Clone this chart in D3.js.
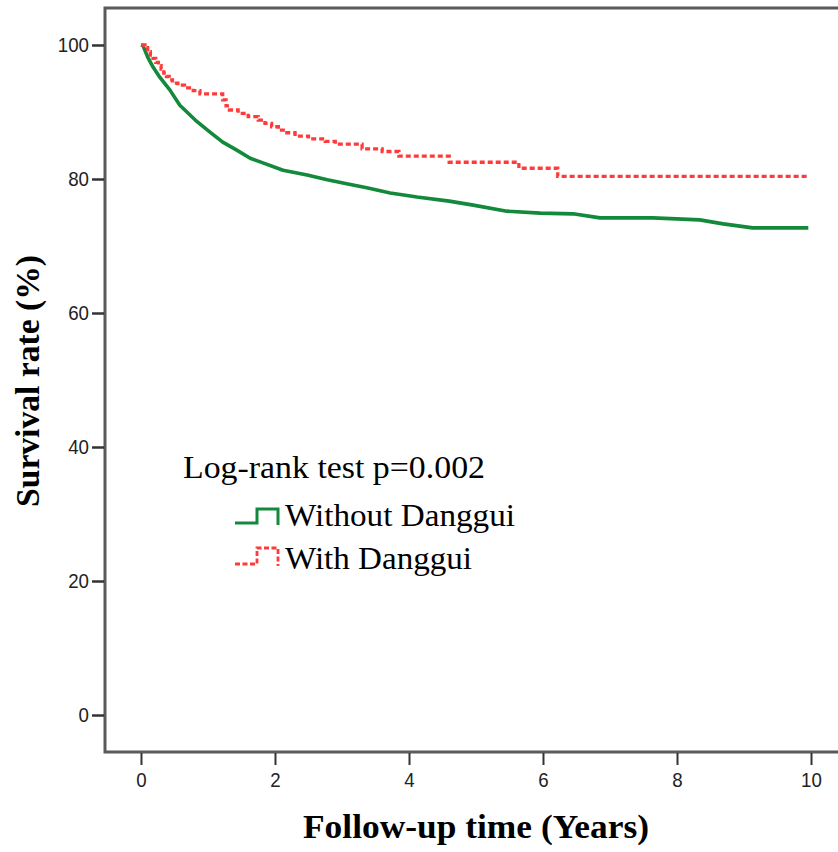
<!DOCTYPE html>
<html>
<head>
<meta charset="utf-8">
<script src="https://cdn.jsdelivr.net/npm/d3@7/dist/d3.min.js"></script>
<style>
  html, body { margin: 0; padding: 0; background: #fff; }
  svg { display: block; }
</style>
</head>
<body>
<svg id="chart" width="838" height="852"></svg>
<script>
// ---- Data ----
const xTicks = [0, 2, 4, 6, 8, 10];
const yTicks = [0, 20, 40, 60, 80, 100];

// Without Danggui (many small steps, drawn as a near-continuous line)
const withoutTime = [0, 0.03, 0.10, 0.18, 0.28, 0.43, 0.58, 0.81, 1.03, 1.22, 1.43, 1.63, 1.82, 2.12, 2.48, 2.78, 3.07, 3.37, 3.72, 4.12, 4.60, 4.96, 5.46, 5.96, 6.45, 6.85, 7.64, 8.34, 8.69, 9.13, 9.96];
const withoutSurv = [100, 99.9, 98.2, 96.7, 95.2, 93.3, 91.0, 88.8, 87.0, 85.5, 84.3, 83.1, 82.4, 81.3, 80.6, 79.9, 79.3, 78.7, 77.9, 77.3, 76.7, 76.1, 75.2, 74.9, 74.8, 74.2, 74.2, 73.9, 73.3, 72.7, 72.7];

// With Danggui (step function)
const withTime = [0, 0.06, 0.10, 0.14, 0.18, 0.22, 0.26, 0.30, 0.34, 0.38, 0.42, 0.47, 0.55, 0.65, 0.78, 0.88, 1.22, 1.27, 1.32, 1.45, 1.60, 1.75, 1.85, 1.95, 2.05, 2.15, 2.30, 2.50, 2.75, 2.90, 3.30, 3.60, 3.85, 4.60, 5.64, 6.22, 9.96];
const withSurv = [100, 99.6, 99.0, 98.5, 98.0, 97.4, 96.9, 96.4, 95.8, 95.3, 94.8, 94.3, 94.0, 93.6, 93.2, 92.7, 91.8, 90.9, 90.3, 89.8, 89.3, 88.8, 88.3, 87.8, 87.3, 86.9, 86.4, 86.0, 85.6, 85.2, 84.5, 84.1, 83.4, 82.5, 81.6, 80.4, 80.4];

const seriesNames = ["Without Danggui", "With Danggui"];
const testLabel = "Log-rank test p=0.002";
const xTitle = "Follow-up time (Years)";
const yTitle = "Survival rate (%)";

// ---- Layout ----
const svg = d3.select("#chart");
const pLeft = 105, pRight = 838, pTop = 8, pBottom = 752;

const x = d3.scaleLinear().domain([-0.537, 10.403]).range([pLeft, pRight]);
const y = d3.scaleLinear().domain([-5.52, 105.52]).range([pBottom, pTop]);

const green = "#12893b";
const red = "#ff3a3a";
const serif = "'Liberation Serif', 'Times New Roman', serif";
const sans = "'Liberation Sans', Arial, sans-serif";

// Frame (top, left, bottom; right side runs off the image)
svg.append("path")
  .attr("d", `M${pRight},${pTop}H${pLeft}V${pBottom}H${pRight}`)
  .attr("fill", "none")
  .attr("stroke", "#5a5a5a")
  .attr("stroke-width", 3);

function styleTicks(g) {
  g.select(".domain").remove();
  g.selectAll(".tick text")
    .attr("fill", "#222")
    .style("font-family", sans)
    .style("font-size", "21px")
    .attr("textLength", d => String(d).length * 10.4)
    .attr("lengthAdjust", "spacingAndGlyphs");
}

// X axis
const xAxis = svg.append("g")
  .attr("transform", `translate(0,${pBottom + 1})`)
  .call(d3.axisBottom(x).tickValues(xTicks).tickSize(12).tickPadding(7).tickFormat(d3.format("d")));
styleTicks(xAxis);
xAxis.selectAll(".tick line").attr("stroke", "#333").attr("stroke-width", 2);

// Y axis
const yAxis = svg.append("g")
  .attr("transform", `translate(${pLeft - 1},0)`)
  .call(d3.axisLeft(y).tickValues(yTicks).tickSize(12).tickPadding(3).tickFormat(d3.format("d")));
styleTicks(yAxis);
yAxis.selectAll(".tick line").attr("stroke", "#333").attr("stroke-width", 2.5);

// Curves
const withoutData = withoutTime.map((t, i) => [t, withoutSurv[i]]);
const withData = withTime.map((t, i) => [t, withSurv[i]]);

svg.append("path")
  .datum(withoutData)
  .attr("fill", "none")
  .attr("stroke", green)
  .attr("stroke-width", 3.6)
  .attr("stroke-linejoin", "round")
  .attr("d", d3.line().x(d => x(d[0])).y(d => y(d[1])).curve(d3.curveLinear));

svg.append("path")
  .datum(withData)
  .attr("fill", "none")
  .attr("stroke", red)
  .attr("stroke-width", 3.3)
  .attr("stroke-dasharray", "5,3")
  .attr("d", d3.line().x(d => x(d[0])).y(d => y(d[1])).curve(d3.curveStepAfter));

// Axis titles
svg.append("text")
  .attr("x", 476).attr("y", 838)
  .attr("text-anchor", "middle")
  .attr("textLength", 346).attr("lengthAdjust", "spacingAndGlyphs")
  .style("font-family", serif)
  .style("font-weight", "bold")
  .style("font-size", "33px")
  .text(xTitle);

svg.append("text")
  .attr("transform", "translate(39,381) rotate(-90)")
  .attr("text-anchor", "middle")
  .attr("textLength", 252).attr("lengthAdjust", "spacingAndGlyphs")
  .style("font-family", serif)
  .style("font-weight", "bold")
  .style("font-size", "34px")
  .text(yTitle);

// Legend
svg.append("text")
  .attr("x", 183).attr("y", 478)
  .attr("textLength", 302).attr("lengthAdjust", "spacingAndGlyphs")
  .style("font-family", serif)
  .style("font-size", "31px")
  .text(testLabel);

const legendSym = [
  { y0: 523, y1: 509, color: green, dash: null, w: 3, ty: 526, len: 230 },
  { y0: 564, y1: 548, color: red, dash: "5,2.5", w: 2.8, ty: 569, len: 187 }
];
legendSym.forEach((s, i) => {
  svg.append("path")
    .attr("d", `M235,${s.y0}H257V${s.y1}H278V${s.y0 + 2}`)
    .attr("fill", "none")
    .attr("stroke", s.color)
    .attr("stroke-width", s.w)
    .attr("stroke-dasharray", s.dash);
  svg.append("text")
    .attr("x", 285).attr("y", s.ty)
    .attr("textLength", s.len).attr("lengthAdjust", "spacingAndGlyphs")
    .style("font-family", serif)
    .style("font-size", "31px")
    .text(seriesNames[i]);
});
</script>
</body>
</html>
